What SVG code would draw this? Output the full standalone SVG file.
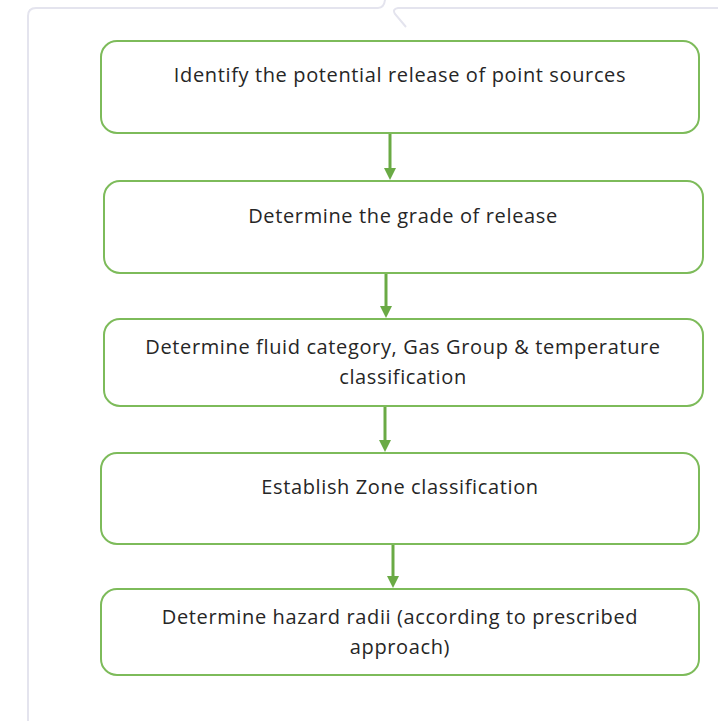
<svg xmlns="http://www.w3.org/2000/svg" width="718" height="721" viewBox="0 0 718 721">
<style>
.frame{fill:none;stroke:#e4e4ee;stroke-width:2}
.box{fill:#ffffff;stroke:#7dbb5a;stroke-width:2}
.lbl{font-family:"Open Sans","Liberation Sans",Arial,sans-serif;font-size:20px;letter-spacing:0.63px;fill:#262626;text-anchor:middle}
.conn{stroke:#6aaa45;stroke-width:3;fill:none}
.head{fill:#6aaa45}
</style>
<rect width="718" height="721" fill="#ffffff"/>
<g id="frame">
<path class="frame" d="M28,721 L28,16 Q28,8 36,8 L378,8 Q384,8 385,0"/>
<path class="frame" d="M718,8 L398,8 Q392,9 395,14 L406,27"/>
</g>
<g id="connectors">
<line class="conn" x1="390" y1="133" x2="390" y2="170"/>
<path class="head" d="M384,168 L396,168 L390,180 Z"/>
<line class="conn" x1="386" y1="273" x2="386" y2="308"/>
<path class="head" d="M380,306 L392,306 L386,318 Z"/>
<line class="conn" x1="385" y1="406" x2="385" y2="442"/>
<path class="head" d="M379,440 L391,440 L385,452 Z"/>
<line class="conn" x1="393" y1="544" x2="393" y2="578"/>
<path class="head" d="M387,576 L399,576 L393,588 Z"/>
</g>
<g id="n1">
<rect class="box" x="101" y="41" width="598" height="92" rx="16"/>
<text class="lbl" x="400" y="82">Identify the potential release of point sources</text>
</g>
<g id="n2">
<rect class="box" x="104" y="181" width="599" height="92" rx="16"/>
<text class="lbl" x="403" y="223">Determine the grade of release</text>
</g>
<g id="n3">
<rect class="box" x="104" y="319" width="599" height="87" rx="16"/>
<text class="lbl" x="403" y="354">Determine fluid category, Gas Group &amp; temperature</text>
<text class="lbl" x="403" y="384">classification</text>
</g>
<g id="n4">
<rect class="box" x="101" y="453" width="598" height="91" rx="16"/>
<text class="lbl" x="400" y="494">Establish Zone classification</text>
</g>
<g id="n5">
<rect class="box" x="101" y="589" width="598" height="86" rx="16"/>
<text class="lbl" x="400" y="624">Determine hazard radii (according to prescribed</text>
<text class="lbl" x="400" y="654">approach)</text>
</g>
</svg>
